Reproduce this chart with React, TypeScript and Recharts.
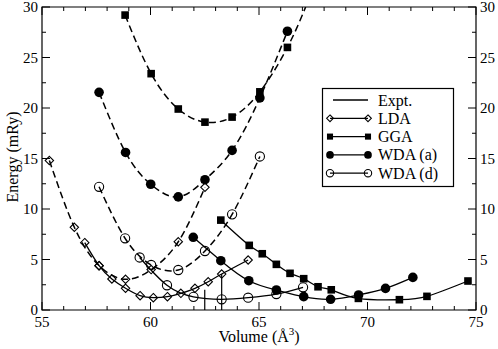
import React from "react";
import { LineChart, Line, XAxis, YAxis, ReferenceArea } from "recharts";

// chart box
const W = 498;
const H = 349;
const MARGIN = { top: 7, right: 22, bottom: 0, left: 0 };
const Y_AXIS_W = 42;
const X_AXIS_H = 39;
const PLOT_TOP = MARGIN.top;
const PLOT_RIGHT = W - MARGIN.right;
const FONT = "'Liberation Serif', 'DejaVu Serif', serif";

// axes
const X_MAJOR = [55, 60, 65, 70, 75];
const X_TICKS = [55, 56, 57, 58, 59, 60, 61, 62, 63, 64, 65, 66, 67, 68, 69, 70, 71, 72, 73, 74, 75];
const Y_MAJOR = [0, 5, 10, 15, 20, 25, 30];
const Y_TICKS = [0, 2.5, 5, 7.5, 10, 12.5, 15, 17.5, 20, 22.5, 25, 27.5, 30];

// dashed curves (upper family)
const LDA_DASH_V = [55.34, 56.49, 57.63, 58.85, 60.03, 61.28, 62.51];
const LDA_DASH_E = [14.8, 8.19, 4.39, 3.04, 4.0, 6.76, 12.15];
const GGA_DASH_V = [58.83, 60.03, 61.28, 62.51, 63.76, 65.04, 66.31];
const GGA_DASH_E = [29.2, 23.4, 19.9, 18.6, 19.1, 21.6, 26.0];
const GGA_DASH_END_V = 67.15;
const GGA_DASH_END_E = 30;
const WDAA_DASH_V = [57.63, 58.85, 60.01, 61.28, 62.51, 63.76, 65.04, 66.31];
const WDAA_DASH_E = [21.55, 15.6, 12.45, 11.2, 12.9, 15.8, 21.0, 27.6];
const WDAD_DASH_V = [57.63, 58.83, 60.03, 61.28, 62.51, 63.76, 65.04];
const WDAD_DASH_E = [12.2, 7.1, 4.46, 3.96, 5.84, 9.47, 15.2];

// solid curves (lower family)
const LDA_V = [56.97, 57.63, 58.22, 58.85, 59.52, 60.13, 60.78, 61.4, 62.05, 62.66, 63.28, 64.5];
const LDA_E = [6.67, 4.39, 3.07, 2.15, 1.42, 1.22, 1.32, 1.65, 2.15, 2.8, 3.56, 4.95];
const GGA_V = [63.24, 64.55, 65.15, 65.8, 66.43, 67.06, 67.72, 68.33, 69.58, 71.47, 72.74, 74.63];
const GGA_E = [8.9, 6.4, 5.57, 4.52, 3.63, 3.1, 2.3, 2.0, 1.15, 1.02, 1.35, 2.87];
const WDAA_V = [61.97, 63.24, 64.53, 65.8, 67.06, 68.3, 69.59, 70.83, 72.09];
const WDAA_E = [7.2, 4.88, 2.9, 1.98, 1.32, 1.06, 1.49, 2.14, 3.23];
const WDAD_V = [59.5, 60.76, 61.98, 63.28, 64.5, 65.8, 67.03];
const WDAD_E = [5.2, 2.45, 1.3, 1.06, 1.22, 1.58, 2.25];

// experimental volumes (vertical markers)
const EXPT_V = [62.5, 63.28];
const EXPT_TOP = [2.0, 3.56];

// legend
const LEGEND_LABELS = ["Expt.", "LDA", "GGA", "WDA (a)", "WDA (d)"];
const LEGEND_SHAPES = ["none", "diamond", "square", "dot", "circle"];

const toData = (vs: number[], es: number[]) => vs.map((v, i) => ({ v, e: es[i] }));

const Marker = ({ shape, cx, cy, s = 1 }: { shape: string; cx: number; cy: number; s?: number }) => {
  if (shape === "diamond") {
    const r = 4.2 * s;
    return (
      <polygon
        points={`${cx},${cy - r} ${cx + r},${cy} ${cx},${cy + r} ${cx - r},${cy}`}
        fill="none"
        stroke="#000"
        strokeWidth={1.1}
      />
    );
  }
  if (shape === "square") {
    const h = 3.8 * s;
    return <rect x={cx - h} y={cy - h} width={2 * h} height={2 * h} fill="#000" />;
  }
  if (shape === "dot") return <circle cx={cx} cy={cy} r={4.8 * s} fill="#000" />;
  if (shape === "circle")
    return <circle cx={cx} cy={cy} r={4.6 * s} fill="none" stroke="#000" strokeWidth={1.1} />;
  return null;
};

const dotOf = (shape: string) => (p: any) => {
  if (p.payload && p.payload.noMark) return <g key={p.index} />;
  return (
    <g key={p.index}>
      <Marker shape={shape} cx={p.cx} cy={p.cy} />
    </g>
  );
};

const XTick = (props: any) => {
  const { x, y, payload } = props;
  const major = X_MAJOR.includes(payload.value);
  const len = major ? 8 : 4;
  return (
    <g>
      <line x1={x} x2={x} y1={y} y2={y - len} stroke="#000" />
      <line x1={x} x2={x} y1={PLOT_TOP} y2={PLOT_TOP + len} stroke="#000" />
      {major && (
        <text x={x} y={y + 17} textAnchor="middle" fontSize={15} fontFamily={FONT} fill="#000">
          {payload.value}
        </text>
      )}
    </g>
  );
};

const YTick = (props: any) => {
  const { x, y, payload } = props;
  const major = Y_MAJOR.includes(payload.value);
  const len = major ? 8 : 4;
  return (
    <g>
      <line x1={x} x2={x + len} y1={y} y2={y} stroke="#000" />
      <line x1={PLOT_RIGHT} x2={PLOT_RIGHT - len} y1={y} y2={y} stroke="#000" />
      {major && (
        <>
          <text x={x - 4} y={y + 5} textAnchor="end" fontSize={15} fontFamily={FONT} fill="#000">
            {payload.value}
          </text>
          <text x={PLOT_RIGHT + 4} y={y + 5} textAnchor="start" fontSize={15} fontFamily={FONT} fill="#000">
            {payload.value}
          </text>
        </>
      )}
    </g>
  );
};

const DASH = "7 4";

export default function App() {
  const ggaDash = [
    ...toData(GGA_DASH_V, GGA_DASH_E),
    { v: GGA_DASH_END_V, e: GGA_DASH_END_E, noMark: true },
  ];

  const dashed = [
    { key: "ldaDash", data: toData(LDA_DASH_V, LDA_DASH_E), shape: "diamond" },
    { key: "ggaDash", data: ggaDash, shape: "square" },
    { key: "wdaaDash", data: toData(WDAA_DASH_V, WDAA_DASH_E), shape: "dot" },
    { key: "wdadDash", data: toData(WDAD_DASH_V, WDAD_DASH_E), shape: "circle" },
  ];
  const solid = [
    { key: "lda", data: toData(LDA_V, LDA_E), shape: "diamond" },
    { key: "gga", data: toData(GGA_V, GGA_E), shape: "square" },
    { key: "wdaa", data: toData(WDAA_V, WDAA_E), shape: "dot" },
    { key: "wdad", data: toData(WDAD_V, WDAD_E), shape: "circle" },
  ];

  return (
    <div style={{ position: "absolute", left: 0, top: 0, width: W, height: H, background: "#fff" }}>
      <LineChart width={W} height={H} margin={MARGIN}>
        <XAxis
          dataKey="v"
          type="number"
          domain={[55, 75]}
          ticks={X_TICKS}
          interval={0}
          height={X_AXIS_H}
          tickSize={0}
          tickMargin={0}
          tickLine={false}
          axisLine={false}
          tick={XTick}
          allowDataOverflow
        />
        <YAxis
          dataKey="e"
          type="number"
          domain={[0, 30]}
          ticks={Y_TICKS}
          interval={0}
          width={Y_AXIS_W}
          tickSize={0}
          tickMargin={0}
          tickLine={false}
          axisLine={false}
          tick={YTick}
          allowDataOverflow
        />
        <ReferenceArea x1={55} x2={75} y1={0} y2={30} fill="none" stroke="#000" strokeWidth={1.2} />

        {EXPT_V.map((v, i) => (
          <Line
            key={"expt" + i}
            data={[
              { v, e: 0 },
              { v, e: EXPT_TOP[i] },
            ]}
            dataKey="e"
            type="linear"
            stroke="#000"
            strokeWidth={1.2}
            dot={false}
            isAnimationActive={false}
          />
        ))}

        {dashed.map((s) => (
          <Line
            key={s.key}
            data={s.data}
            dataKey="e"
            type="natural"
            stroke="#000"
            strokeWidth={1.5}
            strokeDasharray={DASH}
            dot={dotOf(s.shape)}
            isAnimationActive={false}
          />
        ))}
        {solid.map((s) => (
          <Line
            key={s.key}
            data={s.data}
            dataKey="e"
            type="natural"
            stroke="#000"
            strokeWidth={1.3}
            dot={dotOf(s.shape)}
            isAnimationActive={false}
          />
        ))}
      </LineChart>

      <svg
        width={W}
        height={H}
        style={{ position: "absolute", left: 0, top: 0, pointerEvents: "none" }}
        fontFamily={FONT}
      >
        <text x={259} y={342} textAnchor="middle" fontSize={16} fill="#000">
          Volume (Å
          <tspan dy={-7} fontSize={11}>
            3
          </tspan>
          <tspan dy={7}>)</tspan>
        </text>
        <text
          transform="translate(18,157) rotate(-90)"
          textAnchor="middle"
          fontSize={16}
          fill="#000"
        >
          Energy (mRy)
        </text>

        <rect x={322.5} y={88.5} width={131} height={98} fill="#fff" stroke="#000" strokeWidth={1.2} />
        {LEGEND_LABELS.map((label, i) => {
          const cy = 100 + i * 18.3;
          const shape = LEGEND_SHAPES[i];
          return (
            <g key={label}>
              <line
                x1={shape === "none" ? 333 : 330}
                x2={368}
                y1={cy}
                y2={cy}
                stroke="#000"
                strokeWidth={1.3}
              />
              <Marker shape={shape} cx={330} cy={cy} s={0.8} />
              <Marker shape={shape} cx={368} cy={cy} s={0.8} />
              <text x={378} y={cy + 5.5} fontSize={16} fill="#000">
                {label}
              </text>
            </g>
          );
        })}
      </svg>
    </div>
  );
}
